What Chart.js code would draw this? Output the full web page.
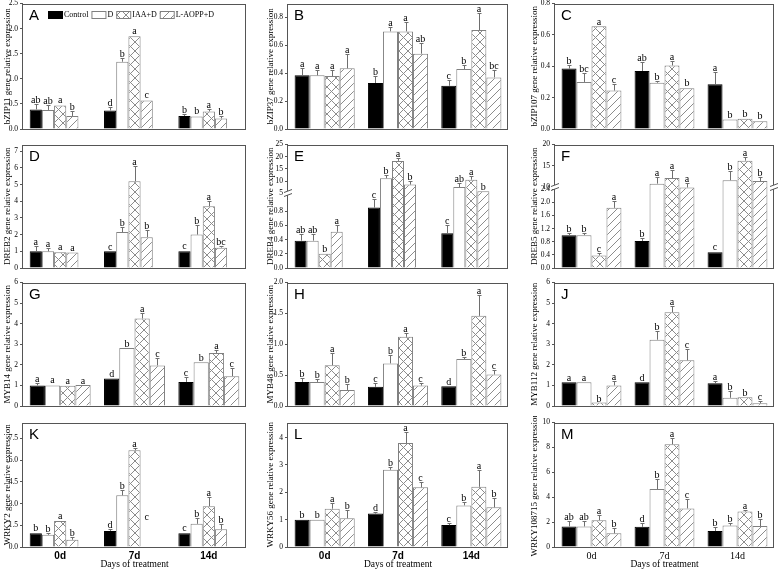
<!DOCTYPE html>
<html>
<head>
<meta charset="utf-8">
<title>Relative expression of transcription factor genes</title>
<script src="https://cdn.jsdelivr.net/npm/chart.js@4.4.1/dist/chart.umd.min.js"></script>
<style>
  html, body { margin: 0; padding: 0; background: #fff; }
  body { position: relative; width: 778px; height: 572px; overflow: hidden; }
  canvas { position: absolute; }
</style>
</head>
<body>
<script>
// categories and series
const days = ['0d', '7d', '14d'];
const treatments = ['Control', 'D', 'IAA+D', 'L-AOPP+D'];

// every table : one row per treatment (Control, D, IAA+D, L-AOPP+D), one value per day
const bzip11Mean = [[0.39, 0.37, 0.26], [0.38, 1.34, 0.25], [0.47, 1.85, 0.35], [0.26, 0.57, 0.21]];
const bzip11Err  = [[0.10, 0.07, 0.03], [0.10, 0.07, 0.03], [0.02, 0.02, 0.05], [0.10, 0.02, 0.04]];
const bzip11Sig  = [['ab', 'd', 'b'], ['ab', 'b', 'b'], ['a', 'a', 'a'], ['b', 'c', 'b']];
const bzip11Ticks = ['0.0', '0.5', '1.0', '1.5', '2.0', '2.5'];

const bzip37Mean = [[0.385, 0.33, 0.31], [0.385, 0.70, 0.43], [0.38, 0.70, 0.71], [0.435, 0.54, 0.37]];
const bzip37Err  = [[0.05, 0.05, 0.04], [0.04, 0.03, 0.03], [0.04, 0.07, 0.12], [0.10, 0.08, 0.05]];
const bzip37Sig  = [['a', 'b', 'c'], ['a', 'a', 'b'], ['a', 'a', 'a'], ['a', 'ab', 'bc']];
const bzip37Ticks = ['0.0', '0.2', '0.4', '0.6', '0.8'];

const bzip107Mean = [[0.385, 0.37, 0.285], [0.30, 0.295, 0.06], [0.655, 0.405, 0.065], [0.245, 0.26, 0.05]];
const bzip107Err  = [[0.025, 0.06, 0.08], [0.06, 0.01, 0.005], [0.0, 0.03, 0.005], [0.045, 0.01, 0.005]];
const bzip107Sig  = [['b', 'ab', 'a'], ['bc', 'b', 'b'], ['a', 'a', 'b'], ['c', 'b', 'b']];
const bzip107Ticks = ['0.0', '0.2', '0.4', '0.6', '0.8'];

const dreb2Mean = [[1.0, 1.0, 1.0], [1.0, 2.15, 2.0], [0.95, 5.2, 3.7], [0.93, 1.85, 1.22]];
const dreb2Err  = [[0.3, 0.0, 0.05], [0.2, 0.3, 0.6], [0.05, 0.9, 0.3], [0.02, 0.4, 0.1]];
const dreb2Sig  = [['a', 'c', 'c'], ['a', 'b', 'b'], ['a', 'a', 'a'], ['a', 'b', 'bc']];
const dreb2Ticks = ['0', '1', '2', '3', '4', '5', '6', '7'];

const dreb4Mean = [[0.385, 0.85, 0.49], [0.385, 11.2, 7.6], [0.2, 18.3, 10.6], [0.51, 8.6, 5.9]];
const dreb4Err  = [[0.09, 0.12, 0.11], [0.09, 1.2, 1.5], [0.01, 1.2, 1.5], [0.1, 1.4, 0.1]];
const dreb4Sig  = [['ab', 'c', 'c'], ['ab', 'b', 'ab'], ['b', 'a', 'a'], ['a', 'b', 'b']];
const dreb4Ticks = ['0.0', '0.2', '0.4', '0.6', '0.8', '5', '10', '15', '20', '25'];

const dreb5Mean = [[1.0, 0.82, 0.48], [1.0, 10.8, 11.6], [0.38, 12.1, 16.2], [1.83, 9.8, 11.4]];
const dreb5Err  = [[0.06, 0.1, 0.04], [0.06, 1.5, 2.2], [0.08, 2.0, 0.8], [0.2, 1.1, 0.9]];
const dreb5Sig  = [['b', 'b', 'c'], ['b', 'a', 'b'], ['c', 'a', 'a'], ['a', 'a', 'b']];
const dreb5Ticks = ['0.0', '0.4', '0.8', '1.2', '1.6', '2.0', '2.4', '10', '15', '20'];

const myb14Mean = [[1.0, 1.33, 1.17], [1.0, 2.82, 2.12], [0.98, 4.25, 2.58], [1.02, 1.97, 1.45]];
const myb14Err  = [[0.1, 0.04, 0.25], [0.08, 0.02, 0.03], [0.02, 0.28, 0.15], [0.02, 0.35, 0.38]];
const myb14Sig  = [['a', 'd', 'c'], ['a', 'b', 'b'], ['a', 'a', 'a'], ['a', 'c', 'c']];
const myb14Ticks = ['0', '1', '2', '3', '4', '5', '6'];

const myb48Mean = [[0.39, 0.31, 0.32], [0.39, 0.69, 0.76], [0.66, 1.12, 1.46], [0.26, 0.33, 0.51]];
const myb48Err  = [[0.07, 0.07, 0.01], [0.05, 0.13, 0.04], [0.2, 0.07, 0.33], [0.1, 0.04, 0.08]];
const myb48Sig  = [['b', 'c', 'd'], ['b', 'b', 'b'], ['a', 'a', 'a'], ['b', 'c', 'c']];
const myb48Ticks = ['0.0', '0.5', '1.0', '1.5', '2.0'];

const myb112Mean = [[1.15, 1.15, 1.1], [1.15, 3.22, 0.4], [0.17, 4.55, 0.42], [1.0, 2.22, 0.13]];
const myb112Err  = [[0.04, 0.03, 0.1], [0.04, 0.42, 0.35], [0.0, 0.3, 0.02], [0.2, 0.55, 0.1]];
const myb112Sig  = [['a', 'd', 'a'], ['a', 'b', 'b'], ['b', 'a', 'b'], ['a', 'c', 'c']];
const myb112Ticks = ['0', '1', '2', '3', '4', '5', '6'];

const wrky2Mean = [[0.95, 1.11, 0.95], [0.84, 3.57, 1.6], [1.8, 6.68, 2.82], [0.5, 1.75, 1.23]];
const wrky2Err  = [[0.1, 0.1, 0.1], [0.1, 0.35, 0.4], [0.08, 0.15, 0.65], [0.2, 0.08, 0.35]];
const wrky2Sig  = [['b', 'd', 'c'], ['b', 'b', 'b'], ['a', 'a', 'a'], ['b', 'c', 'b']];
const wrky2Ticks = ['0.0', '1.5', '3.0', '4.5', '6.0', '7.5'];

const wrky56Mean = [[1.0, 1.22, 0.8], [1.0, 2.82, 1.52], [1.4, 3.8, 2.2], [1.05, 2.18, 1.45]];
const wrky56Err  = [[0.03, 0.05, 0.08], [0.03, 0.1, 0.12], [0.2, 0.4, 0.6], [0.3, 0.2, 0.35]];
const wrky56Sig  = [['b', 'd', 'c'], ['b', 'b', 'b'], ['a', 'a', 'a'], ['b', 'c', 'b']];
const wrky56Ticks = ['0', '1', '2', '3', '4'];

const wrky108715Mean = [[1.65, 1.62, 1.28], [1.65, 4.65, 1.72], [2.15, 8.25, 2.85], [1.1, 3.1, 1.68]];
const wrky108715Err  = [[0.45, 0.3, 0.35], [0.4, 0.8, 0.2], [0.45, 0.5, 0.1], [0.4, 0.75, 0.6]];
const wrky108715Sig  = [['ab', 'd', 'b'], ['ab', 'b', 'b'], ['a', 'a', 'a'], ['b', 'c', 'b']];
const wrky108715Ticks = ['0', '2', '4', '6', '8', '10'];

const SERIF = '"Liberation Serif", "Times New Roman", serif';
const SANS = '"Liberation Sans", Arial, sans-serif';
const FRAME = '#555';
const EDGE = '#808080';

// page grid : c* = canvas edges, p* = plot area edges
const COLS = [
  { cl: 0, pl: 23, pr: 246, cr: 252, tp: 2 },
  { cl: 264, pl: 288, pr: 508, cr: 514, tp: 1 },
  { cl: 528, pl: 555, pr: 774, cr: 778, tp: 1 },
];
const ROWS = [
  { ct: -3, pt: 3, pb: 129, cb: 138 },
  { ct: 138, pt: 143, pb: 268, cb: 276 },
  { ct: 276, pt: 281, pb: 406, cb: 416 },
  { ct: 416, pt: 422, pb: 547, cb: 572 },
];

const dayBold = { family: SANS, size: 10, weight: 'bold' };
const daySerif = { family: SERIF, size: 10 };

// segs : [low value, high value, low fraction, high fraction] of the axis height
const panels = [
  { tag: 'A', gene: 'bZIP11', mean: bzip11Mean, err: bzip11Err, sig: bzip11Sig, ticks: bzip11Ticks, top: 2.5, col: 0, row: 0, spare: true, legend: true },
  { tag: 'B', gene: 'bZIP37', mean: bzip37Mean, err: bzip37Err, sig: bzip37Sig, ticks: bzip37Ticks, top: 0.9, col: 1, row: 0 },
  { tag: 'C', gene: 'bZIP107', mean: bzip107Mean, err: bzip107Err, sig: bzip107Sig, ticks: bzip107Ticks, top: 0.8, col: 2, row: 0 },
  { tag: 'D', gene: 'DREB2', mean: dreb2Mean, err: dreb2Err, sig: dreb2Sig, ticks: dreb2Ticks, top: 7.4, col: 0, row: 1, spare: true },
  { tag: 'E', gene: 'DREB4', mean: dreb4Mean, err: dreb4Err, sig: dreb4Sig, ticks: dreb4Ticks, top: 25, col: 1, row: 1, spare: true,
    segs: [[0, 1.05, 0, 0.604], [5, 25, 0.604, 1]] },
  { tag: 'F', gene: 'DREB5', mean: dreb5Mean, err: dreb5Err, sig: dreb5Sig, ticks: dreb5Ticks, top: 20, col: 2, row: 1, breakBoth: true,
    segs: [[0, 2.45, 0, 0.652], [9.9, 20, 0.652, 1]] },
  { tag: 'G', gene: 'MYB14', mean: myb14Mean, err: myb14Err, sig: myb14Sig, ticks: myb14Ticks, top: 6, col: 0, row: 2 },
  { tag: 'H', gene: 'MYB48', mean: myb48Mean, err: myb48Err, sig: myb48Sig, ticks: myb48Ticks, top: 2.0, col: 1, row: 2 },
  { tag: 'J', gene: 'MYB112', mean: myb112Mean, err: myb112Err, sig: myb112Sig, ticks: myb112Ticks, top: 6, col: 2, row: 2 },
  { tag: 'K', gene: 'WRKY2', mean: wrky2Mean, err: wrky2Err, sig: wrky2Sig, ticks: wrky2Ticks, top: 8.6, col: 0, row: 3, spare: true,
    dayFont: dayBold, hide: [3, 1] },
  { tag: 'L', gene: 'WRKY56', mean: wrky56Mean, err: wrky56Err, sig: wrky56Sig, ticks: wrky56Ticks, top: 4.55, col: 1, row: 3, dayFont: dayBold },
  { tag: 'M', gene: 'WRKY108715', mean: wrky108715Mean, err: wrky108715Err, sig: wrky108715Sig, ticks: wrky108715Ticks, top: 10, col: 2, row: 3, dayFont: daySerif },
];

const byCanvas = {};

// hatch fills
function hatch(size, cross) {
  const c = document.createElement('canvas');
  c.width = c.height = size;
  const g = c.getContext('2d');
  g.fillStyle = '#fff';
  g.fillRect(0, 0, size, size);
  g.strokeStyle = '#8c8c8c';
  g.lineWidth = 1;
  g.beginPath();
  g.moveTo(-1, size + 1); g.lineTo(size + 1, -1);
  if (cross) { g.moveTo(-1, -1); g.lineTo(size + 1, size + 1); }
  g.stroke();
  return g.createPattern(c, 'repeat');
}
const fills = ['#000', '#fff', hatch(9, true), hatch(8, false)];
const borders = ['#000', EDGE, EDGE, EDGE];

// linear axis that may skip a value range (broken axis)
class BrokenScale extends Chart.LinearScale {
  buildTicks() {
    return byCanvas[this.chart.canvas.id].ticks.map(t => ({ value: parseFloat(t) }));
  }
  getPixelForValue(v) {
    if (v === null || v === undefined || isNaN(v)) return NaN;
    const segs = byCanvas[this.chart.canvas.id].segs;
    let d = segs[segs.length - 1][3];
    for (const s of segs) {
      if (v <= s[1]) {
        d = v <= s[0] ? s[2] : s[2] + (v - s[0]) / (s[1] - s[0]) * (s[3] - s[2]);
        break;
      }
    }
    return this.getPixelForDecimal(d);
  }
}
BrokenScale.id = 'broken';
BrokenScale.defaults = {};
Chart.register(BrokenScale);

const decor = {
  id: 'decor',
  afterDatasetsDraw(chart) {
    const p = byCanvas[chart.canvas.id];
    const ctx = chart.ctx, area = chart.chartArea, ys = chart.scales.y;
    ctx.save();

    // error bars (upper whisker) and significance letters
    treatments.forEach((t, k) => {
      chart.getDatasetMeta(k).data.forEach((bar, i) => {
        const v = p.mean[k][i], e = p.err[k][i];
        const yTop = ys.getPixelForValue(v);
        const yErr = Math.round(ys.getPixelForValue(v + e)) + 0.5;
        const x = Math.round(bar.x) + 0.5;
        ctx.strokeStyle = '#6e6e6e';
        ctx.lineWidth = 1;
        if (yTop - yErr >= 1) {
          ctx.beginPath();
          ctx.moveTo(x, yTop);
          ctx.lineTo(x, yErr);
          ctx.moveTo(x - 2, yErr);
          ctx.lineTo(x + 2, yErr);
          ctx.stroke();
        }
        ctx.fillStyle = '#000';
        ctx.font = '10px ' + SERIF;
        ctx.textAlign = 'center';
        ctx.textBaseline = 'alphabetic';
        ctx.fillText(p.sig[k][i], bar.x, yErr - 2);
      });
    });

    // frame
    const L = Math.round(area.left), T = Math.round(area.top), R = Math.round(area.right), B = Math.round(area.bottom);
    ctx.strokeStyle = FRAME;
    ctx.lineWidth = 1;
    ctx.strokeRect(L - 0.5, T + 0.5, R - L, B - T);

    // axis break marks
    if (p.segs.length > 1) {
      const yb = Math.round(ys.getPixelForDecimal(p.segs[0][3]));
      const sides = p.breakBoth ? [L, R] : [L];
      sides.forEach(x => {
        ctx.fillStyle = '#fff';
        ctx.fillRect(x - 3, yb - 2, 6, 4);
        ctx.beginPath();
        ctx.moveTo(x - 4, yb - 0.5); ctx.lineTo(x + 4, yb - 3.5);
        ctx.moveTo(x - 4, yb + 3.5); ctx.lineTo(x + 4, yb + 0.5);
        ctx.stroke();
      });
    }

    // panel tag
    ctx.fillStyle = '#000';
    ctx.font = '15px ' + SANS;
    ctx.textAlign = 'left';
    ctx.textBaseline = 'alphabetic';
    ctx.fillText(p.tag, L + 6, T + 16);

    // legend (panel A only)
    if (p.legend) {
      ctx.font = '8px ' + SERIF;
      ctx.textBaseline = 'middle';
      let x = L + 25;
      const y = T + 7;
      chart.data.datasets.slice(0, treatments.length).forEach(ds => {
        ctx.fillStyle = ds.backgroundColor;
        ctx.fillRect(x, y, 14, 7);
        ctx.strokeStyle = ds.borderColor;
        ctx.strokeRect(x + 0.5, y + 0.5, 14, 7);
        x += 16;
        ctx.fillStyle = '#000';
        ctx.fillText(ds.label, x, y + 4);
        x += ctx.measureText(ds.label).width + 3;
      });
    }
    ctx.restore();
  }
};

function makePanel(p) {
  const col = COLS[p.col], row = ROWS[p.row];
  if (!p.segs) p.segs = [[0, p.top, 0, 1]];
  const cv = document.createElement('canvas');
  cv.id = 'panel' + p.tag;
  cv.width = col.cr - col.cl;
  cv.height = row.cb - row.ct;
  cv.style.left = col.cl + 'px';
  cv.style.top = row.ct + 'px';
  document.body.appendChild(cv);
  byCanvas[cv.id] = p;

  const datasets = treatments.map((t, k) => {
    const hidden = i => p.hide && p.hide[0] === k && p.hide[1] === i;
    return {
      label: t,
      data: p.mean[k],
      backgroundColor: p.hide && p.hide[0] === k ? days.map((d, i) => hidden(i) ? 'rgba(0,0,0,0)' : fills[k]) : fills[k],
      borderColor: p.hide && p.hide[0] === k ? days.map((d, i) => hidden(i) ? 'rgba(0,0,0,0)' : borders[k]) : borders[k],
      borderWidth: 1,
    };
  });
  // empty fifth slot kept by some panels of the figure
  if (p.spare) datasets.push({ label: '', data: days.map(() => null) });

  const bottomRow = p.row === ROWS.length - 1;
  new Chart(cv, {
    type: 'bar',
    data: { labels: days, datasets },
    options: {
      responsive: false,
      animation: false,
      events: [],
      datasets: { bar: { categoryPercentage: 0.82, barPercentage: 1.0 } },
      layout: { padding: { top: row.pt - row.ct, right: col.cr - col.pr, left: 0, bottom: 0 } },
      plugins: { legend: { display: false }, tooltip: { enabled: false } },
      scales: {
        x: {
          grid: { display: false, drawTicks: false },
          border: { display: false },
          ticks: { display: bottomRow, color: '#000', padding: 3, font: p.dayFont || daySerif },
          title: { display: bottomRow, text: 'Days of treatment', color: '#000',
                   font: { family: SERIF, size: 9.5 }, padding: { top: 0, bottom: 2 } },
          afterFit: s => { s.height = row.cb - row.pb; }
        },
        y: {
          type: 'broken',
          min: 0,
          max: p.top,
          grid: { drawOnChartArea: false, drawTicks: true, tickLength: 3, color: FRAME },
          border: { display: false },
          ticks: { autoSkip: false, color: '#000', padding: 2, font: { family: SERIF, size: 7.5 },
                   callback: (v, i) => p.ticks[i] },
          title: { display: true, text: p.gene + ' gene relative expression', color: '#000',
                   font: { family: SERIF, size: 9 }, padding: { top: col.tp, bottom: 0 } },
          afterFit: s => { s.width = col.pl - col.cl; }
        }
      }
    },
    plugins: [decor]
  });
}

panels.forEach(makePanel);
</script>
</body>
</html>
